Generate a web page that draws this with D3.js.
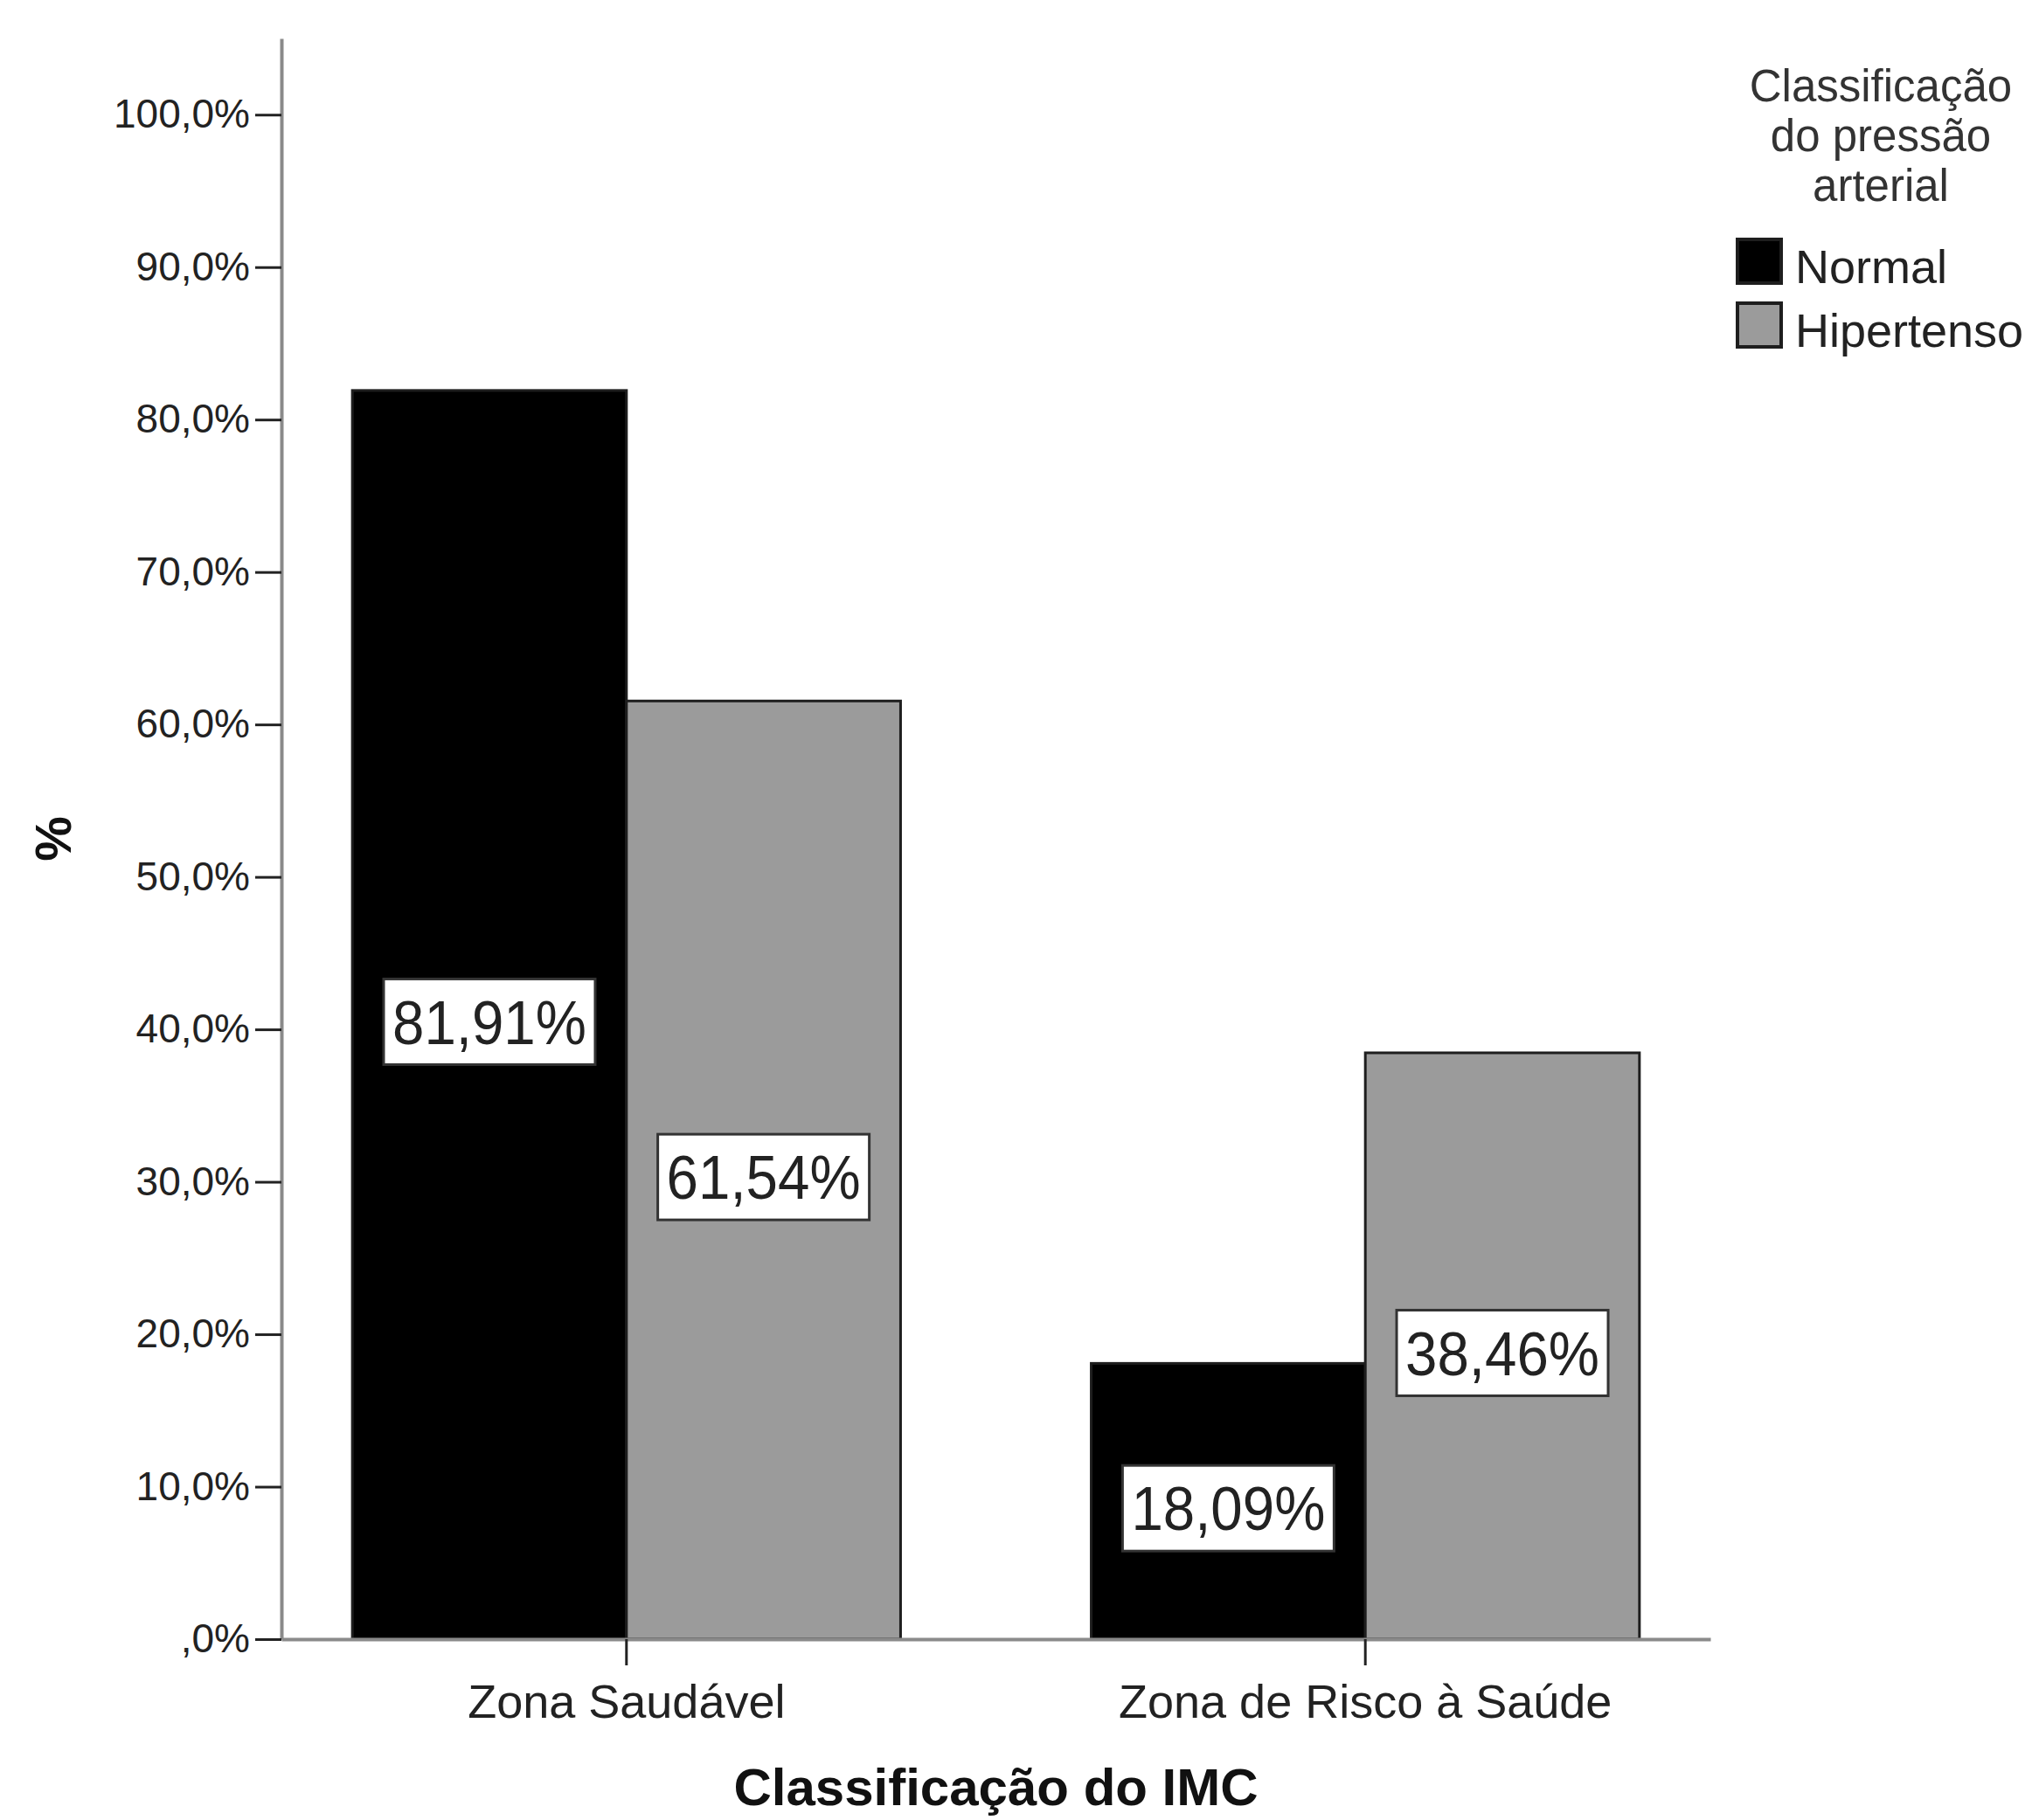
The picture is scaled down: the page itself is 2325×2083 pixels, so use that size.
<!DOCTYPE html>
<html>
<head>
<meta charset="utf-8">
<script src="https://cdn.jsdelivr.net/npm/d3@7"></script>
<style>
  body { margin: 0; background: #fff; }
  text { font-family: "Liberation Sans", Arial, sans-serif; }
</style>
</head>
<body>
<div id="chart"></div>
<script>
// data
var categories = ["Zona Saudável", "Zona de Risco à Saúde"];
var series = ["Normal", "Hipertenso"];
var normalValues = [81.91, 18.09];
var hipertensoValues = [61.54, 38.46];
var yTickValues = [0, 10, 20, 30, 40, 50, 60, 70, 80, 90, 100];
var yTickLabels = [",0%", "10,0%", "20,0%", "30,0%", "40,0%", "50,0%", "60,0%", "70,0%", "80,0%", "90,0%", "100,0%"];
var legendTitle = ["Classificação", "do pressão", "arterial"];
var xTitle = "Classificação do IMC";
var yTitle = "%";

var width = 2325;
var height = 2083;
var plotLeft = 322, plotRight = 1957, plotTop = 44, plotBottom = 1876;
var fills = {"Normal": "#000000", "Hipertenso": "#9b9b9b"};

var svg = d3.select("#chart").append("svg")
    .attr("width", width)
    .attr("height", height);

var rows = [];
categories.forEach(function (c, i) {
    rows.push({cat: c, key: "Normal", value: normalValues[i]});
    rows.push({cat: c, key: "Hipertenso", value: hipertensoValues[i]});
});

var x0 = d3.scaleBand()
    .domain(categories)
    .range([plotLeft, plotRight])
    .paddingInner(0.258)
    .paddingOuter(0.096);
var x1 = d3.scaleBand()
    .domain(series)
    .range([0, x0.bandwidth()]);
var y = d3.scaleLinear()
    .domain([0, 105])
    .range([plotBottom, plotTop]);

// bars
svg.append("g").selectAll("rect")
    .data(rows)
    .enter().append("rect")
    .attr("x", function (d) { return x0(d.cat) + x1(d.key); })
    .attr("y", function (d) { return y(d.value); })
    .attr("width", x1.bandwidth())
    .attr("height", function (d) { return y(0) - y(d.value); })
    .attr("fill", function (d) { return fills[d.key]; })
    .attr("stroke", "#1e1e1e")
    .attr("stroke-width", 3);

// y axis
var yAxis = svg.append("g")
    .attr("transform", "translate(" + plotLeft + ",0)")
    .call(d3.axisLeft(y)
        .tickValues(yTickValues)
        .tickFormat(function (d, i) { return yTickLabels[i]; })
        .tickSize(30)
        .tickSizeOuter(0)
        .tickPadding(6));
yAxis.select(".domain").attr("stroke", "#8a8a8a").attr("stroke-width", 4);
yAxis.selectAll(".tick line").attr("stroke", "#222").attr("stroke-width", 3);
yAxis.selectAll(".tick text")
    .attr("font-size", 46)
    .attr("fill", "#222");

// x axis
var xAxis = svg.append("g")
    .attr("transform", "translate(0," + plotBottom + ")")
    .call(d3.axisBottom(x0)
        .tickSize(30)
        .tickSizeOuter(0)
        .tickPadding(22));
xAxis.select(".domain").attr("stroke", "#8a8a8a").attr("stroke-width", 4);
xAxis.selectAll(".tick line").attr("stroke", "#222").attr("stroke-width", 3);
xAxis.selectAll(".tick text")
    .attr("font-size", 54)
    .attr("fill", "#222");

// value labels, boxed, at half bar height
var lab = svg.append("g").selectAll("g")
    .data(rows)
    .enter().append("g")
    .attr("transform", function (d) {
        return "translate(" + (x0(d.cat) + x1(d.key) + x1.bandwidth() / 2) + "," + (y(d.value / 2) + 8) + ")";
    });
lab.append("rect")
    .attr("x", -121)
    .attr("y", -49)
    .attr("width", 242)
    .attr("height", 98)
    .attr("fill", "#fff")
    .attr("stroke", "#333")
    .attr("stroke-width", 3);
lab.append("text")
    .attr("text-anchor", "middle")
    .attr("dy", "0.36em")
    .attr("font-size", 70)
    .attr("textLength", 222)
    .attr("lengthAdjust", "spacingAndGlyphs")
    .attr("fill", "#222")
    .text(function (d) { return d.value.toFixed(2).replace(".", ",") + "%"; });

// axis titles
svg.append("text")
    .attr("x", (plotLeft + plotRight) / 2)
    .attr("y", 2066)
    .attr("text-anchor", "middle")
    .attr("font-size", 60)
    .attr("font-weight", "bold")
    .attr("fill", "#111")
    .text(xTitle);
svg.append("text")
    .attr("transform", "translate(81," + (plotTop + plotBottom) / 2 + ") rotate(-90)")
    .attr("text-anchor", "middle")
    .attr("font-size", 58)
    .attr("font-weight", "bold")
    .attr("fill", "#111")
    .text(yTitle);

// legend
var legend = svg.append("g");
legend.selectAll("text.title")
    .data(legendTitle)
    .enter().append("text")
    .attr("class", "title")
    .attr("x", 2152)
    .attr("y", function (d, i) { return 116 + i * 57; })
    .attr("text-anchor", "middle")
    .attr("font-size", 51)
    .attr("fill", "#333")
    .text(function (d) { return d; });
var item = legend.selectAll("g.item")
    .data(series)
    .enter().append("g")
    .attr("class", "item")
    .attr("transform", function (d, i) { return "translate(1988," + (274 + i * 73) + ")"; });
item.append("rect")
    .attr("width", 50)
    .attr("height", 50)
    .attr("fill", function (d) { return fills[d]; })
    .attr("stroke", "#1e1e1e")
    .attr("stroke-width", 4);
item.append("text")
    .attr("x", 66)
    .attr("y", 50)
    .attr("font-size", 54)
    .attr("fill", "#222")
    .text(function (d) { return d; });
</script>
</body>
</html>
